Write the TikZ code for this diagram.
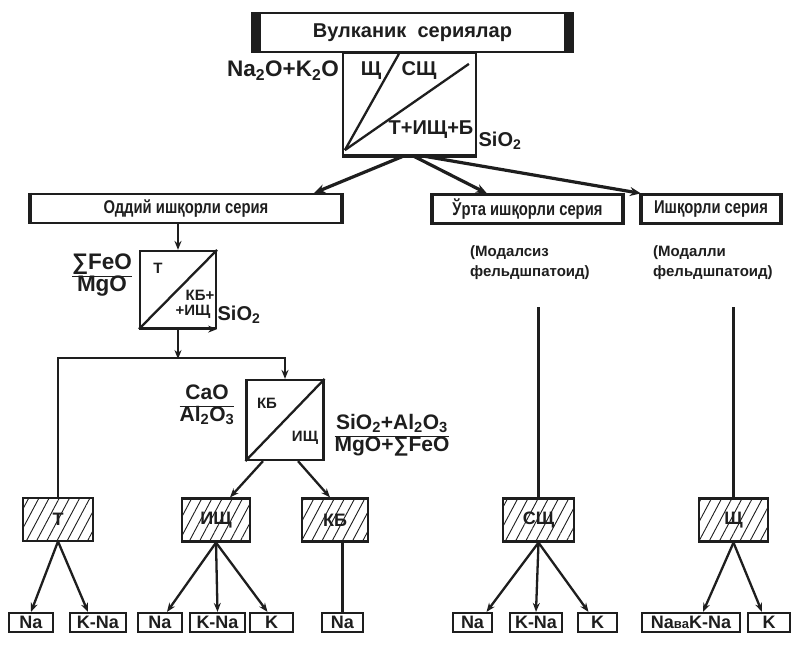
\documentclass[tikz,border=0pt]{standalone}
\usepackage{fontspec}
\setmainfont{Liberation Sans}
\newfontfamily\narrowfont{Liberation Sans}[FakeStretch=0.8]
\usetikzlibrary{arrows.meta,patterns.meta,calc}
\definecolor{ink}{HTML}{1E1E1E}
\begin{document}
\begin{tikzpicture}[x=1pt,y=-1pt,
  lbl/.style={inner sep=0pt, text=ink, font=\bfseries\fontsize{#1}{#1}\selectfont},
  lbl/.default=20,
  frame/.style={draw=ink, line width=2.2pt, inner sep=0pt},
  sbox/.style={frame, minimum height=29pt, text=ink, font=\narrowfont\bfseries\fontsize{18.5}{18.5}\selectfont},
  hbox/.style={frame, minimum height=43pt, pattern={Lines[angle=62,distance=9pt,line width=0.9pt]}, pattern color=ink, text=ink, font=\bfseries\fontsize{18}{18}\selectfont},
  leaf/.style={frame, minimum height=19pt, text=ink, font=\bfseries\fontsize{18}{18}\selectfont},
  arr/.style={draw=ink, line width=2.3pt, -{Stealth[length=9pt,width=7pt]}},
  big/.style={draw=ink, line width=3.2pt, -{Stealth[length=11pt,width=9pt]}},
  conn/.style={draw=ink, line width=2.3pt},
  endbar/.style={draw=ink, line width=4pt}
]
\useasboundingbox[fill=white] (0,0) rectangle (798,648);

% title
\node[frame, line width=2.6pt, minimum width=320pt, minimum height=39pt, lbl=20] (title) at (412.5,32.5) {Вулканик\ \ сериялар};
\fill[ink] (title.north west) rectangle ($(title.south west)+(10,0)$);
\fill[ink] (title.north east) rectangle ($(title.south east)+(-10,0)$);

% square 1
\node[frame, minimum width=133pt, minimum height=102pt] (sq1) at (409.5,104) {};
\draw[conn] ($(sq1.south west)+(3,-6)$) -- ($(sq1.north west)+(57,2)$);
\draw[conn] ($(sq1.south west)+(3,-6)$) -- ($(sq1.north west)+(127,12)$);
\draw[ink, line width=3.5pt] (sq1.south west) -- (sq1.south east);
\node[lbl=22.5, anchor=east] (l1) at (339,71) {Na\textsubscript{2}O+K\textsubscript{2}O};
\node[lbl=20] (l2) at (371,71) {Щ};
\node[lbl=20] (l3) at (419,71) {СЩ};
\node[lbl=20] (l4) at (431,130) {Т+ИЩ+Б};
\node[lbl=20] (l5) at (500,141) {SiO\textsubscript{2}};

% series boxes
\node[sbox, minimum width=310pt] (odd) at (186,208.5) {Оддий ишқорли серия};
\node[sbox, minimum width=189pt] (urta) at (527.5,209) {Ўрта ишқорли серия};
\node[sbox, minimum width=138pt] (ishq) at (711,209) {Ишқорли серия};
\foreach \n in {odd,urta,ishq} {
  \draw[endbar] (\n.north west) -- (\n.south west);
  \draw[endbar] (\n.north east) -- (\n.south east);
}
\draw[big] ($(sq1.south)+(-6,0)$) -- ($(odd.north east)+(-28,0)$);
\draw[big] ($(sq1.south)+(4,0)$) -- ($(urta.north west)+(55,0)$);
\draw[big] ($(sq1.south)+(14,0)$) -- (ishq.north west);

% square 2
\node[frame, minimum width=76pt, minimum height=77pt] (sq2) at (178,289.5) {};
\draw[conn] (sq2.south west) -- (sq2.north east);
\draw[arr] (sq2.south west) -- (sq2.south east);
\draw[arr] (odd.south -| sq2.north) -- (sq2.north);
\node[lbl=15] (t2a) at (158,268) {Т};
\node[lbl=15] (t2b) at (200,295) {КБ+};
\node[lbl=15] (t2c) at (193,312) {+ИЩ};
\node[lbl=20] (t2d) at (239,315) {SiO\textsubscript{2}};
\node[lbl=22.5] (f1) at (102,276) {\begin{tabular}{@{}c@{}}∑FeO\\\hline MgO\end{tabular}};
\coordinate (j) at (178,359);
\draw[arr] (sq2.south) -- (j);

% square 3
\node[frame, minimum width=77pt, minimum height=80pt] (sq3) at (285,420) {};
\draw[conn] (sq3.south west) -- (sq3.north east);
\node[lbl=15] (t3a) at (267,403) {КБ};
\node[lbl=15] (t3b) at (305,438) {ИЩ};
\node[lbl=21] (f2) at (207,406) {\begin{tabular}{@{}c@{}}CaO\\\hline Al\textsubscript{2}O\textsubscript{3}\end{tabular}};
\node[lbl=21] (f3) at (392,436) {\begin{tabular}{@{}c@{}}SiO\textsubscript{2}+Al\textsubscript{2}O\textsubscript{3}\\\hline MgO+∑FeO\end{tabular}};

% hatched boxes
\node[hbox, minimum width=70pt] (ht) at (58,519.5) {Т};
\node[hbox, minimum width=68pt] (hi) at (216,520) {ИЩ};
\node[hbox, minimum width=66pt] (hk) at (335,520) {КБ};
\node[hbox, minimum width=71pt] (hs) at (538.5,520) {СЩ};
\node[hbox, minimum width=69pt] (hw) at (733.5,520) {Щ};

\draw[arr] (ht.north) |- ($(sq3.north)+(0,-21)$) -- (sq3.north);
\draw[arr] ($(sq3.south)+(-22,0)$) -- ($(hi.north)+(14,0)$);
\draw[arr] ($(sq3.south)+(13,0)$) -- ($(hk.north)+(-5,0)$);

% modal texts
\node[lbl=15, anchor=west] (m1) at (470,253) {(Модалсиз};
\node[lbl=15, anchor=west] (m2) at (470,273) {фельдшпатоид)};
\node[lbl=15, anchor=west] (m3) at (653,253) {(Модалли};
\node[lbl=15, anchor=west] (m4) at (653,273) {фельдшпатоид)};
\coordinate (c1) at (538.5,307);
\coordinate (c2) at (733.5,307);
\draw[conn] (c1) -- (hs.north);
\draw[conn] (c2) -- (hw.north);

% leaves
\node[leaf, minimum width=44pt] (a1) at (31,622.5) {Na};
\node[leaf, minimum width=56pt] (a2) at (98,622.5) {K-Na};
\node[leaf, minimum width=44pt] (a3) at (160,622.5) {Na};
\node[leaf, minimum width=55pt] (a4) at (217.5,622.5) {K-Na};
\node[leaf, minimum width=43pt] (a5) at (271.5,622.5) {K};
\node[leaf, minimum width=41pt] (a6) at (342.5,622.5) {Na};
\node[leaf, minimum width=39pt] (a7) at (472.5,622.5) {Na};
\node[leaf, minimum width=52pt] (a8) at (536,622.5) {K-Na};
\node[leaf, minimum width=39pt] (a9) at (597.5,622.5) {K};
\node[leaf, minimum width=98pt] (a10) at (691,622.5) {Na{\fontsize{13}{13}\selectfont ва}K-Na};
\node[leaf, minimum width=42pt] (a11) at (769,622.5) {K};

\draw[arr] (ht.south) -- (a1.north);
\draw[arr] (ht.south) -- ($(a2.north)+(-10,0)$);
\draw[arr] (hi.south) -- ($(a3.north)+(7,0)$);
\draw[arr] (hi.south) -- (a4.north);
\draw[arr] (hi.south) -- ($(a5.north)+(-4,0)$);
\draw[conn] (a6.north |- hk.south) -- (a6.north);
\draw[arr] (hs.south) -- ($(a7.north)+(14,0)$);
\draw[arr] (hs.south) -- (a8.north);
\draw[arr] (hs.south) -- ($(a9.north)+(-9,0)$);
\draw[arr] (hw.south) -- ($(a10.north)+(12,0)$);
\draw[arr] (hw.south) -- ($(a11.north)+(-7,0)$);
\end{tikzpicture}
\end{document}
